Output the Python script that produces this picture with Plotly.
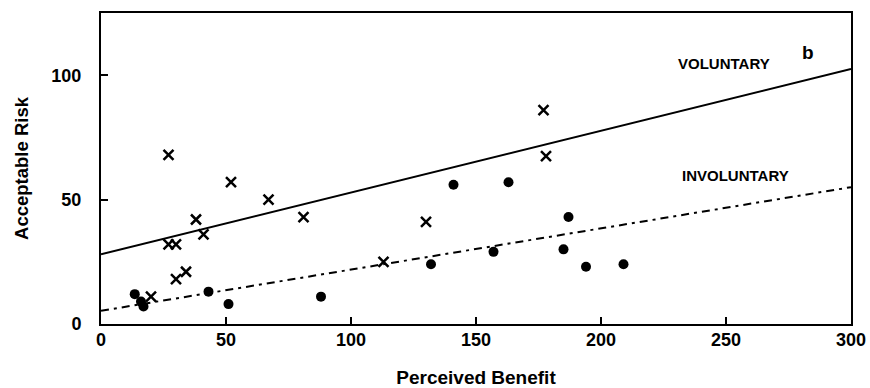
import plotly.graph_objects as go

# Voluntary (crosses)
vol_x = [27, 52, 67, 81, 38, 41, 27, 30, 34, 30, 20, 113, 177, 178, 130]
vol_y = [68, 57, 50, 43, 42, 36, 32, 32, 21, 18, 11, 25, 86, 67.5, 41]
# Involuntary (dots)
inv_x = [13.5, 16, 17, 43, 51, 88, 141, 163, 187, 132, 157, 185, 194, 209]
inv_y = [12, 9, 7, 13, 8, 11, 56, 57, 43, 24, 29, 30, 23, 24]
# Fitted lines
fit_x = [0, 300]
vol_fit_y = [28, 102.5]
inv_fit_y = [5.3, 55]

x_ticks = [0, 50, 100, 150, 200, 250, 300]
y_ticks = [0, 50, 100]

FONT = "Liberation Sans, Arial, sans-serif"

fig = go.Figure()
fig.add_trace(go.Scatter(x=fit_x, y=vol_fit_y, mode="lines",
                         line=dict(color="black", width=2), showlegend=False))
fig.add_trace(go.Scatter(x=fit_x, y=inv_fit_y, mode="lines",
                         line=dict(color="black", width=2, dash="8px,5px,3px,5px"), showlegend=False))
fig.add_trace(go.Scatter(x=vol_x, y=vol_y, mode="markers",
                         marker=dict(symbol="x-thin", size=10, line=dict(color="black", width=2.5)),
                         showlegend=False))
fig.add_trace(go.Scatter(x=inv_x, y=inv_y, mode="markers",
                         marker=dict(symbol="circle", size=10, color="black"),
                         showlegend=False))

fig.add_annotation(x=249.2, y=104.8, text="VOLUNTARY", showarrow=False,
                   font=dict(family=FONT, size=15, color="black", weight="bold"))
fig.add_annotation(x=253.6, y=59.8, text="INVOLUNTARY", showarrow=False,
                   font=dict(family=FONT, size=15, color="black", weight="bold"))
fig.add_annotation(x=282.8, y=109, text="b", showarrow=False,
                   font=dict(family=FONT, size=19, color="black", weight="bold"))

axis_common = dict(showline=True, linecolor="black", linewidth=2, mirror=True,
                   ticks="inside", ticklen=7, tickwidth=1.5, tickcolor="black",
                   showgrid=False, zeroline=False, automargin=False,
                   tickfont=dict(family=FONT, size=18, color="black", weight="bold"))

fig.update_xaxes(range=[0, 300], tickvals=x_ticks,
                 title=dict(text="Perceived Benefit", standoff=27,
                            font=dict(family=FONT, size=19, color="black", weight="bold")),
                 ticklabelstandoff=-2,
                 **axis_common)
fig.update_yaxes(range=[0, 125], tickvals=y_ticks,
                 title=dict(text="Acceptable Risk", standoff=18,
                            font=dict(family=FONT, size=18.5, color="black", weight="bold")),
                 ticklabelstandoff=14,
                 **axis_common)

fig.update_layout(width=870, height=388, margin=dict(l=101, r=19, t=13, b=64),
                  plot_bgcolor="white", paper_bgcolor="white")

fig.write_html("out.html", config={"displayModeBar": False},
               post_script="document.body.style.margin='0px';document.body.style.overflow='hidden';")
